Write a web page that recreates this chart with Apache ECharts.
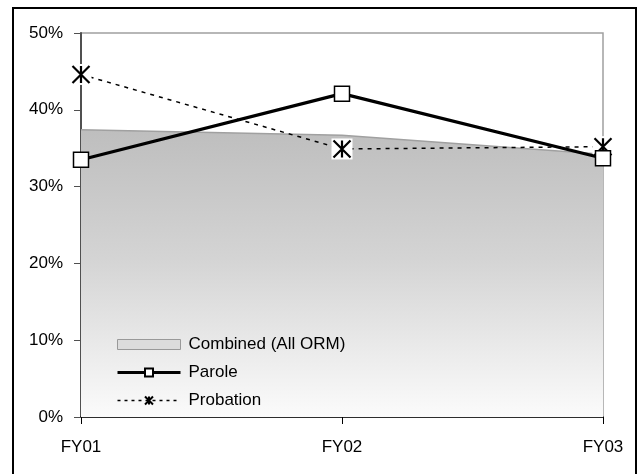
<!DOCTYPE html>
<html>
<head>
<meta charset="utf-8">
<script src="https://cdn.jsdelivr.net/npm/echarts@6/dist/echarts.min.js"></script>
<style>
html,body{margin:0;padding:0;background:#fff;}
#chart{width:639px;height:474px;}
</style>
</head>
<body>
<div id="chart"></div>
<script>
var categories = ['FY01', 'FY02', 'FY03'];
var combined = [37.4, 36.7, 34.2];
var parole = [33.5, 42.1, 33.7];
var probation = [44.6, 34.9, 35.2];
var yTicks = [0, 10, 20, 30, 40, 50];

var FONT = '"Liberation Sans", Arial, sans-serif';
var asterisk = 'path://M0,0L16,16M16,0L0,16M8,0L8,16';

var chart = echarts.init(document.getElementById('chart'), null, {renderer: 'canvas'});
chart.setOption({
  animation: false,
  backgroundColor: '#fff',
  textStyle: {fontFamily: FONT},
  grid: {left: 81, right: 36, top: 33, bottom: 57, show: true, borderColor: '#a0a0a0', borderWidth: 1.5, backgroundColor: 'transparent'},
  xAxis: {
    type: 'category', data: categories, boundaryGap: false,
    axisLine: {lineStyle: {color: '#000', width: 1.5}},
    axisTick: {show: true, alignWithLabel: true, length: 7, lineStyle: {color: '#000', width: 1}},
    axisLabel: {color: '#000', fontSize: 17, fontFamily: FONT, margin: 22}
  },
  yAxis: {
    type: 'value', min: yTicks[0], max: yTicks[yTicks.length - 1], interval: 10,
    axisLine: {show: true, lineStyle: {color: '#505050', width: 2}},
    axisTick: {show: true, length: 7, lineStyle: {color: '#505050', width: 1}},
    splitLine: {show: false},
    axisLabel: {color: '#000', fontSize: 17, fontFamily: FONT, margin: 18, formatter: '{value}%'}
  },
  legend: {
    orient: 'vertical', left: 116, top: 336, padding: 0,
    itemWidth: 63, itemHeight: 10, itemGap: 11,
    textStyle: {fontSize: 17, fontFamily: FONT, color: '#000', padding: [0, 0, 0, 3]},
    data: [
      {name: 'Combined (All ORM)', icon: 'rect', itemStyle: {color: '#dcdcdc', borderColor: '#999', borderWidth: 1}},
      {name: 'Parole', lineStyle: {width: 3, color: '#000'}},
      {name: 'Probation', lineStyle: {width: 1.5, color: '#000', type: [3, 4]}}
    ]
  },
  series: [
    {
      name: 'Combined (All ORM)', type: 'line', data: combined, z: 2,
      symbol: 'none',
      lineStyle: {color: '#a0a0a0', width: 1.5},
      itemStyle: {color: '#c8c8c8'},
      areaStyle: {
        opacity: 1,
        color: new echarts.graphic.LinearGradient(0, 0, 0, 1, [
          {offset: 0, color: '#bebebe'},
          {offset: 0.45, color: '#d4d4d4'},
          {offset: 1, color: '#fbfbfb'}
        ])
      }
    },
    {
      name: 'Probation', type: 'line', data: probation, z: 3,
      symbol: asterisk, symbolSize: 16,
      lineStyle: {color: '#000', width: 1.5, type: [4, 5]},
      itemStyle: {color: '#000', borderColor: '#000', borderWidth: 1.5}
    },
    {
      name: 'probBox', type: 'scatter', data: probation, z: 4,
      symbol: 'rect', symbolSize: 21,
      itemStyle: {color: '#fff', opacity: 1},
      silent: true
    },
    {
      name: 'probMark', type: 'scatter', data: probation, z: 5,
      symbol: asterisk, symbolSize: 17,
      itemStyle: {color: '#000', borderColor: '#000', borderWidth: 2.2, opacity: 1},
      silent: true
    },
    {
      name: 'Parole', type: 'line', data: parole, z: 6,
      symbol: 'rect', symbolSize: 15, showAllSymbol: true,
      lineStyle: {color: '#000', width: 3.2},
      itemStyle: {color: '#fff', borderColor: '#000', borderWidth: 1.5}
    }
  ],
  graphic: [
    {type: 'rect', z: 100, silent: true, shape: {x: 13, y: 8, width: 623, height: 500},
     style: {fill: 'none', stroke: '#000', lineWidth: 2}}
  ]
});
</script>
</body>
</html>
